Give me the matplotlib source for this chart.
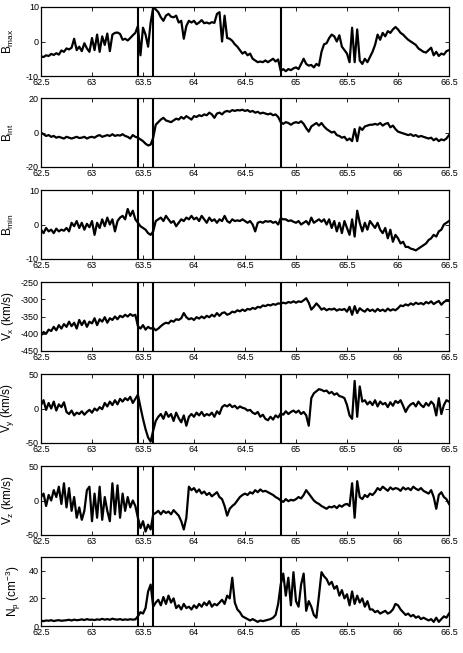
import numpy as np
import matplotlib
matplotlib.use('Agg')
import matplotlib.pyplot as plt
from matplotlib.ticker import FuncFormatter

plt.rcParams['font.family'] = ['Liberation Sans', 'DejaVu Sans']
plt.rcParams['mathtext.default'] = 'regular'

# time axis runs 62.5 -> 66.5, one sample every 0.025 (10 samples per row below)
T_START, T_END = 62.5, 66.5
boundaries = [63.448, 63.598, 64.853]

b_max = [
    -4.3, -4.5, -4.0, -4.2, -3.6, -3.9, -3.4, -3.8, -2.6, -3.0,
    -2.0, -2.3, -1.8, 0.8, -2.5, -1.5, -2.8, -0.5, -2.0, -3.0,
    1.0, -2.5, 2.0, -3.0, 1.5, -1.0, 2.3, -2.8, 2.0, 2.5,
    2.6, 2.2, 0.5, 0.8, 0.3, 1.0, 1.8, 2.5, 4.5, -4.0,
    4.0, 2.0, -1.5, 5.5, 9.8, 9.3, 8.5, 7.0, 6.0, 7.5,
    8.0, 7.2, 7.0, 7.5, 5.5, 6.0, 0.8, 4.5, 6.0, 5.5,
    6.0, 5.0, 5.5, 6.2, 5.3, 5.5, 5.2, 5.6, 5.4, 8.0,
    8.5, 0.0, 7.5, 1.0, 0.8, 0.2, -0.8, -1.5, -2.5, -3.5,
    -3.0, -4.0, -3.5, -5.0, -5.5, -6.0, -5.8, -6.0, -5.5, -6.0,
    -5.5, -5.0, -5.8, -5.2, -8.5, -8.0, -8.6, -8.0, -8.3, -7.8,
    -7.5, -8.0, -6.5, -5.0, -6.5, -7.0, -6.8, -7.5, -6.5, -7.0,
    -3.0, -0.8, -0.5, 1.0, 2.0, 1.5, 0.0, 1.8, -1.5, -2.5,
    -3.5, -6.0, 4.0, -6.0, 3.5, -5.5, -6.5, -5.0, -6.0, -4.5,
    -3.0, -1.0, 2.0, 0.5, 2.5, 1.5, 3.0, 2.5, 3.5, 4.2,
    3.5, 2.5, 2.0, 1.2, 0.5, 0.0, -0.5, -1.0, -2.0, -2.5,
    -3.0, -3.2, -2.5, -1.8, -4.0, -3.0, -4.2, -3.5, -3.8, -2.8,
    -2.5,
]

b_int = [
    0.0, -1.0, -2.0, -1.5, -2.5, -2.0, -3.0, -2.5, -3.0, -3.5,
    -2.5, -3.0, -3.5, -3.0, -2.5, -3.2, -3.0, -2.5, -3.5, -2.8,
    -2.5, -3.0, -2.0, -1.5, -2.5, -2.0, -1.5, -2.0, -1.0, -2.0,
    -1.5, -1.8, -1.0, -2.0, -2.5, -3.5, -1.5, -2.5, -3.0, -4.0,
    -5.0, -6.5, -7.5, -7.0, -3.0, 4.5, 6.0, 7.5, 8.5, 7.0,
    6.5, 6.0, 7.0, 8.0, 7.5, 9.0, 8.0, 9.5, 8.5, 7.5,
    9.5, 9.0, 10.0, 9.5, 10.5, 10.0, 11.5, 10.5, 8.5, 11.0,
    11.5, 10.5, 12.0, 12.5, 12.0, 13.0, 12.5, 13.0, 12.8, 13.2,
    12.5, 13.0, 12.0, 12.5, 11.5, 12.0, 11.0, 11.5, 11.0, 10.5,
    11.0, 10.0, 10.5, 9.0, 6.0, 5.0, 6.0, 5.5, 4.5, 5.5,
    6.0, 5.5, 6.5, 5.0, 2.5, 0.5, 3.5, 4.5, 5.5, 4.0,
    5.5, 3.5, 2.0, 1.0, 0.0, 0.5, -1.5, -2.0, -3.0, -2.5,
    -4.5, -3.5, -5.0, 2.0, -5.0, 3.0, 1.5, 3.5, 4.0, 4.5,
    4.5, 5.0, 4.5, 5.5, 4.0, 5.0, 5.5, 3.0, 4.0, 2.0,
    0.5, 0.0, -0.5, -1.0, -1.5, -1.0, -2.0, -1.5, -2.5, -2.0,
    -2.5, -3.0, -3.5, -3.0, -4.5, -3.5, -5.0, -4.0, -4.5, -3.5,
    -1.5,
]

b_min = [
    -1.5, -2.5, -1.0, -2.0, -1.5, -2.5, -1.2, -2.0, -1.5, -1.8,
    -1.0, -2.0, 0.5, -0.5, 1.0, -1.0, 0.5, -1.5, 0.2, -0.8,
    1.0, -3.0, 0.5, -1.0, 1.5, -0.5, 2.0, 0.0, 1.5, -2.0,
    1.0, 2.0, 2.5, 1.5, 4.5, 2.5, 4.0, 1.5, 0.5, -0.5,
    -1.0, -1.5, -2.5, -3.0, -2.0, 1.0, 1.5, 2.0, 1.0, 2.5,
    1.5, 0.5, 1.0, -0.5, 0.5, 1.5, 1.0, 2.0, 1.5, 2.5,
    1.5, 2.0, 1.0, 2.5, 1.5, 0.5, 2.0, 1.0, 1.5, 0.5,
    1.5, 1.0, 2.5, 1.0, 0.5, 1.5, 1.0, 1.2, 1.0, 1.5,
    1.0, 0.5, 1.0, 0.0, -2.0, 0.5, 0.8, 0.5, 1.0, 0.8,
    1.0, 0.5, 0.8, 0.0, 1.8, 1.5, 1.5, 1.0, 1.2, 0.8,
    0.5, 1.0, 0.0, 0.5, 1.0, 0.0, 2.0, 0.5, 1.0, 1.5,
    0.8, 1.5, 0.0, 1.5, -1.0, 1.0, -2.0, 0.5, -2.5, 1.0,
    -1.0, -3.0, 1.5, -3.5, 4.0, 0.5, -2.0, 0.5, -1.5, 1.0,
    0.0, -1.0, 0.5, -1.5, -2.5, -1.0, -4.0, -1.5, -5.0, -3.0,
    -4.0, -5.5, -5.0, -6.5, -6.5, -7.0, -7.2, -7.5, -7.0, -6.5,
    -6.0, -5.5, -4.5, -4.0, -3.0, -3.5, -2.0, -1.5, 0.0, 0.5,
    1.0,
]

v_x = [
    -405, -395, -400, -388, -392, -380, -390, -375, -385, -372,
    -380, -365, -378, -368, -385, -360, -375, -362, -380, -365,
    -370, -355, -375, -358, -365, -352, -368, -355, -360, -350,
    -358, -348, -352, -345, -350, -343, -348, -345, -378, -385,
    -375, -388, -380, -385, -383, -390, -385, -378, -372, -368,
    -370, -362, -365, -358, -360, -355, -340, -352, -358, -355,
    -360, -352, -356, -350, -355, -348, -352, -345, -350, -340,
    -348, -340, -338, -345, -342, -336, -338, -332, -335, -330,
    -334, -328, -330, -325, -328, -322, -324, -318, -320, -316,
    -318, -314, -316, -312, -313, -310, -312, -308, -310, -306,
    -310, -306, -308, -303, -297, -310, -330, -322, -312, -320,
    -330, -326, -332, -328, -330, -327, -333, -329, -331, -328,
    -336, -322, -345, -320, -340, -326, -332, -336, -328, -334,
    -330, -336, -328, -334, -330, -335, -327, -333, -329, -332,
    -326, -318, -320, -315, -318, -312, -316, -310, -314, -311,
    -315, -308, -312, -306, -314, -309, -305, -316, -308, -304,
    -305,
]

v_y = [
    5, 12, -2, 8, 0, 10, -3, 6, 2, 9,
    -5, -8, -3, -10, -6, -8, -4, -9, -5, -2,
    -6, 0, -3, 2, -1, 8, 3, 10, 5, 12,
    6, 14, 10, 15, 12, 17, 8, 14, 20, 2,
    -15, -30, -42, -48, -32, -18, -12, -8, -15, -5,
    -12, -8, -18, -6, -14, -20, -10, -25, -12, -8,
    -12, -6, -10, -5, -11, -8, -10, -6, -12, -4,
    -8, 2, 5, 3, 6, 2, 4, 0, 3, 1,
    0, -3, -2, -6, -8, -5, -12, -9, -15, -17,
    -12, -16, -10, -13, -7, -9, -4, -8, -5, -3,
    -6, -3, -8, -5, -10, -25, 15, 22, 25, 28,
    27, 25, 26, 22, 24, 20, 22, 18, 17, 15,
    5, -10, -15, 40, -12, 32, 10, 12, 6, 10,
    5, 12, 3, 10, 6, 8, 2, 9, 4, 11,
    8, 12, 4, -5, 2, 6, 8, 3, 10, 5,
    2, 8, 4, 10, 6, -10, 15, -8, 5, 12,
    10,
]

v_z = [
    5, 10, -8, 8, 0, 15, 5, 20, -5, 25,
    -10, 18, -15, 5, -25, -10, -28, -15, 15, 20,
    -30, 10, -25, 20, -28, 5, -15, -30, 25, -20,
    22, -25, 10, -15, 5, -10, 0, -8, -25, -40,
    -30, -45, -35, -42, -20, -18, -15, -20, -15, -18,
    -16, -20, -14, -18, -22, -30, -42, -25, 20, 15,
    18, 12, 16, 10, 13, 8, 11, 6, 9, 12,
    5, 2, -8, -22, -12, -8, -5, 0, 5, 8,
    10, 8, 12, 10, 15, 12, 16, 13, 14, 12,
    10, 8, 5, 3, 0, -2, 2, -1, 1, 0,
    2, 5, 3, 8, 15, 10, 5, 0, -3, -5,
    -8, -10, -12, -9, -10, -8, -11, -7, -9, -6,
    -5, -8, 25, -25, 28, 5, 2, 8, 5, 10,
    8, 12, 18, 15, 20, 17, 14, 19, 16, 18,
    17, 14, 19, 16, 18, 15, 20, 17, 15, 18,
    14, 12, 10, 15, 5, -12, 8, 12, 5, 2,
    -5,
]

n_p = [
    4, 3.5, 4, 3.8, 4.2, 3.6, 4, 4.2, 3.8, 4,
    4.2, 4.5, 4, 4.6, 4.2, 4.4, 4.8, 4.3, 5, 4.5,
    4.6, 4.3, 4.8, 4.5, 5.2, 4.6, 5, 4.5, 5.3, 4.8,
    4.6, 5, 4.4, 4.8, 4.5, 4.9, 4.6, 4.8, 7, 10,
    9, 13, 25, 30, 14, 17, 19, 15, 21, 16,
    22, 17, 20, 13, 15, 12, 16, 13, 14, 12,
    15, 13, 16, 14, 17, 15, 18, 14, 16, 15,
    17, 19, 16, 22, 20, 35, 17, 12, 10, 7,
    6, 5, 4, 5, 4, 3, 4, 3.5, 4, 4.5,
    5, 6, 8, 16, 30, 38, 22, 35, 15, 39,
    18, 14, 30, 38, 11, 18, 14, 8, 6, 22,
    39, 36, 34, 30, 32, 27, 29, 22, 26, 20,
    23, 15, 25, 16, 22, 17, 20, 14, 18, 12,
    12, 10, 11, 9, 10, 11, 9, 10, 12, 16,
    15, 12, 10, 8, 9, 7, 8, 6, 7, 5,
    6, 5, 4, 5, 3, 6, 3, 5, 7, 6,
    9,
]

# (series, y label, y limits, y ticks, label x offset in axes units)
panels = [
    (b_max, 'B$_{max}$', (-10, 10), [-10, 0, 10], -0.062),
    (b_int, 'B$_{int}$', (-20, 20), [-20, 0, 20], -0.062),
    (b_min, 'B$_{min}$', (-10, 10), [-10, 0, 10], -0.062),
    (v_x, 'V$_x$ (km/s)', (-450, -250), [-450, -400, -350, -300, -250], -0.062),
    (v_y, 'V$_y$ (km/s)', (-50, 50), [-50, 0, 50], -0.062),
    (v_z, 'V$_z$ (km/s)', (-50, 50), [-50, 0, 50], -0.062),
    (n_p, 'N$_p$ (cm$^{-3}$)', (0, 50), [0, 20, 40], -0.045),
]

W, H = 463, 653
fig = plt.figure(figsize=(W / 100, H / 100), dpi=100)

left_px, right_px = 41, 449
tops_px = [7, 98, 190, 282, 374, 466, 557]
height_px = 69
fmt = FuncFormatter(lambda v, pos: '%g' % v)

for (vals, label, ylim, yticks, lab_x), top in zip(panels, tops_px):
    ax = fig.add_axes([left_px / W, 1 - (top + height_px) / H,
                       (right_px - left_px) / W, height_px / H])
    t = np.linspace(T_START, T_END, len(vals))
    ax.plot(t, vals, color='black', linewidth=1.6)
    for b in boundaries:
        ax.axvline(b, color='black', linewidth=1.5)
    ax.set_xlim(T_START, T_END)
    ax.set_ylim(*ylim)
    ax.set_xticks(np.arange(62.5, 66.51, 0.5))
    ax.set_yticks(yticks)
    ax.xaxis.set_major_formatter(fmt)
    ax.yaxis.set_major_formatter(fmt)
    ax.tick_params(direction='in', top=True, right=True, length=3, width=0.6,
                   labelsize=6.5, pad=1.5)
    for s in ax.spines.values():
        s.set_linewidth(0.9)
    ax.set_ylabel(label, fontsize=8.5)
    ax.yaxis.set_label_coords(lab_x, 0.5)

plt.savefig('out.png', dpi=100)
